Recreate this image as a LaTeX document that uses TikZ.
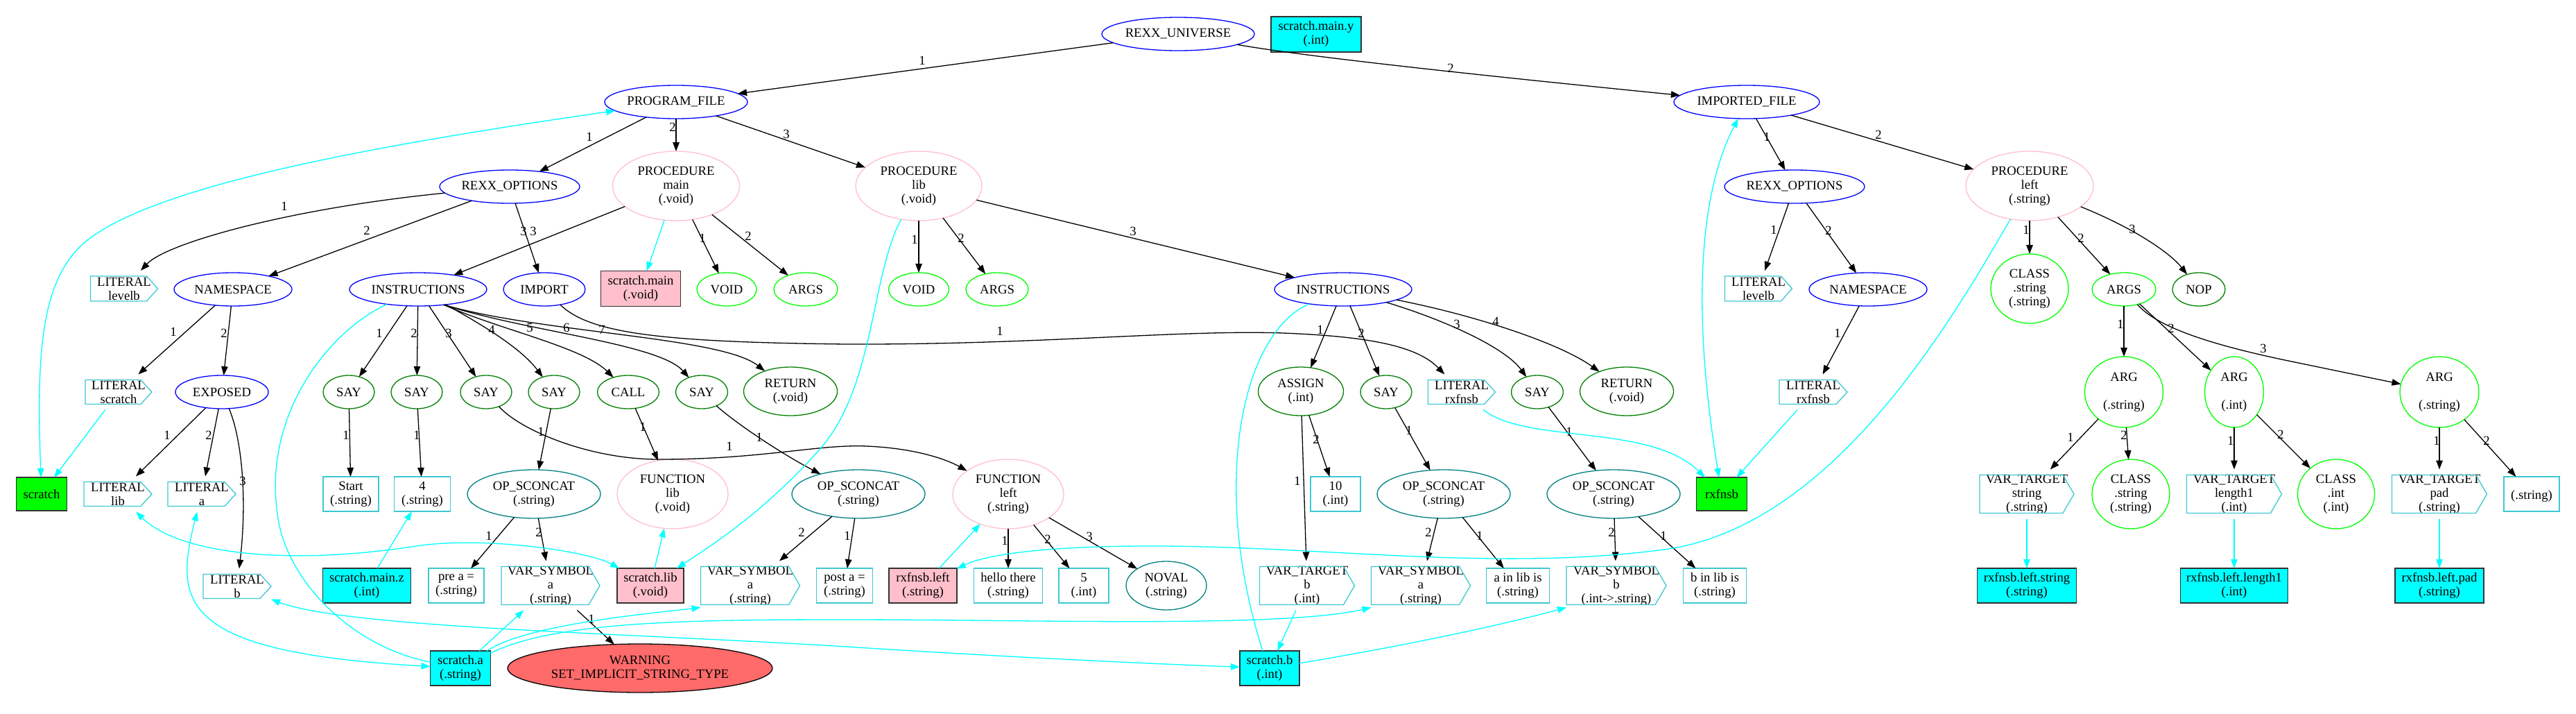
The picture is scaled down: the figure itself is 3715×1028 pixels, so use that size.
\documentclass[tikz,border=0pt]{standalone}
\usepackage{fontspec}
\setmainfont{Liberation Serif}
\usetikzlibrary{shapes.geometric,arrows.meta}
\definecolor{pinkc}{RGB}{255,192,203}
\definecolor{limec}{RGB}{0,255,0}
\definecolor{darkg}{RGB}{0,128,0}
\definecolor{tealc}{RGB}{0,128,128}
\definecolor{cdsc}{RGB}{60,200,210}
\definecolor{cyanc}{RGB}{0,255,255}
\definecolor{warnc}{RGB}{255,106,106}
\definecolor{boxb}{RGB}{50,50,50}
\newcommand\gvN[7]{\node[#1,minimum width=#5pt,minimum height=#6pt] (#2) at (#3,#4) {#7};}
\newcommand\gvC[6]{\node[cdsn,minimum width=#4pt,minimum height=#5pt+16pt] (#1) at (#2,#3) {#6};
 \draw[cdsline] (#2-#4/2,#3-#5/2) -- (#2+#4/2-16,#3-#5/2) -- (#2+#4/2,#3) -- (#2+#4/2-16,#3+#5/2) -- (#2-#4/2,#3+#5/2) -- cycle;}
\tikzset{
 gv/.style={font=\fontsize{18.67}{20}\selectfont, align=center, inner sep=0pt, outer sep=0pt},
 eb/.style={gv, ellipse, draw, line width=1.3pt},
 eblue/.style={eb, draw=blue},
 epink/.style={eb, draw=pinkc},
 egrn/.style={eb, draw=limec},
 edk/.style={eb, draw=darkg},
 etl/.style={eb, draw=tealc},
 ewarn/.style={eb, draw=black, fill=warnc},
 lbox/.style={gv, rectangle, draw=cdsc, line width=1.3pt},
 fbase/.style={gv, rectangle, draw=boxb, line width=1.3pt},
 fcyan/.style={fbase, fill=cyanc},
 fpink/.style={fbase, fill=pinkc},
 fgrn/.style={fbase, fill=limec},
 cdsn/.style={gv, rectangle},
 cdsline/.style={draw=cdsc, line width=1.3pt},
 lab/.style={gv},
 blk/.style={draw=black, line width=1.3pt, -{Triangle[length=13pt,width=9.5pt]}},
 cyn/.style={draw=cyanc, line width=1.3pt},
 cy/.style={cyn, -{Triangle[length=13pt,width=9.5pt]}},
 cyb/.style={cyn, {Triangle[length=13pt,width=9.5pt]}-{Triangle[length=13pt,width=9.5pt]}},
}
\begin{document}
\begin{tikzpicture}[x=1pt,y=-1pt]
\fill[white] (0,0) rectangle (3715,1028);
\useasboundingbox (0,0) rectangle (3715,1028);
% row 0-2
\gvN{eblue}{ru}{1699}{49}{220}{48}{REXX\_UNIVERSE}
\gvN{fcyan}{smy}{1898}{49.5}{130}{51}{scratch.main.y\\(.int)}
\gvN{eblue}{pf}{975}{147}{206}{48}{PROGRAM\_FILE}
\gvN{eblue}{imf}{2519}{147}{210}{48}{IMPORTED\_FILE}
\gvN{eblue}{rol}{735}{269}{202}{48}{REXX\_OPTIONS}
\gvN{epink}{pm}{975}{268}{183}{100}{PROCEDURE\\main\\(.void)}
\gvN{epink}{pl}{1325}{268}{182}{100}{PROCEDURE\\lib\\(.void)}
\gvN{eblue}{ror}{2588}{269}{202}{48}{REXX\_OPTIONS}
\gvN{epink}{plf}{2927}{268}{184}{100}{PROCEDURE\\left\\(.string)}
% row 3
\gvC{llv}{179}{416}{97}{36}{LITERAL\\levelb}
\gvN{eblue}{nsl}{336}{417}{170}{48}{NAMESPACE}
\gvN{eblue}{insl}{603}{417}{198}{48}{INSTRUCTIONS}
\gvN{eblue}{imp}{785}{417}{118}{48}{IMPORT}
\gvN{fpink}{smain}{924}{416}{115}{51}{scratch.main\\(.void)}
\gvN{egrn}{vm}{1048}{417}{86}{48}{VOID}
\gvN{egrn}{am}{1162}{417}{92}{48}{ARGS}
\gvN{egrn}{vl}{1325}{417}{87}{48}{VOID}
\gvN{egrn}{al}{1438}{417}{90}{48}{ARGS}
\gvN{eblue}{insr}{1937}{417}{198}{48}{INSTRUCTIONS}
\gvC{llvr}{2536}{416}{97}{36}{LITERAL\\levelb}
\gvN{eblue}{nsr}{2694}{417}{170}{48}{NAMESPACE}
\gvN{egrn}{cls1}{2927}{416}{112}{100}{CLASS\\.string\\(.string)}
\gvN{egrn}{argsr}{3063}{417}{92}{48}{ARGS}
\gvN{edk}{nop}{3171}{417}{76}{48}{NOP}
% row 4
\gvC{lsc}{171}{565}{96}{35}{LITERAL\\scratch}
\gvN{eblue}{exp}{320}{565}{134}{48}{EXPOSED}
\gvN{edk}{s1}{503}{565}{74}{48}{SAY}
\gvN{edk}{s2}{601}{565}{74}{48}{SAY}
\gvN{edk}{s3}{701}{565}{74}{48}{SAY}
\gvN{edk}{s4}{799}{565}{74}{48}{SAY}
\gvN{edk}{call}{906}{565}{89}{48}{CALL}
\gvN{edk}{s5}{1012}{565}{75}{48}{SAY}
\gvN{edk}{rl}{1140}{564}{135}{70}{RETURN\\(.void)}
\gvN{edk}{asg}{1876}{564}{123}{70}{ASSIGN\\(.int)}
\gvN{edk}{sr1}{1999}{565}{74}{48}{SAY}
\gvC{lrx}{2108}{565}{97}{35}{LITERAL\\rxfnsb}
\gvN{edk}{sr2}{2217}{565}{75}{48}{SAY}
\gvN{edk}{rr}{2346}{564}{135}{70}{RETURN\\(.void)}
\gvC{lrxr}{2615}{565}{98}{35}{LITERAL\\rxfnsb}
\gvN{egrn}{arg1}{3063}{565}{113}{102}{ARG\\~\\(.string)}
\gvN{egrn}{arg2}{3222}{565}{85}{102}{ARG\\~\\(.int)}
\gvN{egrn}{arg3}{3518}{565}{114}{102}{ARG\\~\\(.string)}
% row 5
\gvN{fgrn}{scr}{60}{712}{73}{48}{scratch}
\gvC{llib}{170}{712}{98}{35}{LITERAL\\lib}
\gvC{la}{291}{712}{98}{35}{LITERAL\\a}
\gvN{lbox}{start}{506}{712}{80}{50}{Start\\(.string)}
\gvN{lbox}{four}{609}{712}{81}{50}{4\\(.string)}
\gvN{etl}{opl1}{770}{712}{192}{70}{OP\_SCONCAT\\(.string)}
\gvN{epink}{fnl}{970}{712}{160}{100}{FUNCTION\\lib\\(.void)}
\gvN{etl}{opl2}{1238}{712}{192}{70}{OP\_SCONCAT\\(.string)}
\gvN{epink}{fl}{1454}{712}{160}{100}{FUNCTION\\left\\(.string)}
\gvN{lbox}{ten}{1926}{712}{72}{50}{10\\(.int)}
\gvN{etl}{opr1}{2082}{712}{192}{70}{OP\_SCONCAT\\(.string)}
\gvN{etl}{opr2}{2327}{712}{192}{70}{OP\_SCONCAT\\(.string)}
\gvN{fgrn}{rxg}{2483}{712}{73}{48}{rxfnsb}
\gvC{vts}{2923}{712}{136}{55}{VAR\_TARGET\\string\\(.string)}
\gvN{egrn}{cls2}{3073}{712}{112}{100}{CLASS\\.string\\(.string)}
\gvC{vtl}{3222}{712}{137}{55}{VAR\_TARGET\\length1\\(.int)}
\gvN{egrn}{clsi}{3369}{712}{111}{100}{CLASS\\.int\\(.int)}
\gvC{vtp}{3518}{712}{137}{55}{VAR\_TARGET\\pad\\(.string)}
\gvN{lbox}{strb}{3651}{712}{80}{50}{~\\(.string)}
% row 6
\gvC{lb}{342}{845}{98}{35}{LITERAL\\b}
\gvN{fcyan}{smz}{529}{844}{127}{50}{scratch.main.z\\(.int)}
\gvN{lbox}{prea}{658}{844}{80}{50}{pre a =\\(.string)}
\gvC{vsa1}{794}{844}{142}{55}{VAR\_SYMBOL\\a\\(.string)}
\gvN{fpink}{slib}{938}{844}{96}{50}{scratch.lib\\(.void)}
\gvC{vsa2}{1082}{844}{143}{55}{VAR\_SYMBOL\\a\\(.string)}
\gvN{lbox}{posta}{1218}{844}{81}{50}{post a =\\(.string)}
\gvN{fpink}{rxl}{1331}{844}{98}{50}{rxfnsb.left\\(.string)}
\gvN{lbox}{hello}{1454}{844}{99}{50}{hello there\\(.string)}
\gvN{lbox}{five}{1563}{844}{72}{50}{5\\(.int)}
\gvN{etl}{noval}{1682}{844}{116}{70}{NOVAL\\(.string)}
\gvC{vtb}{1885}{844}{137}{55}{VAR\_TARGET\\b\\(.int)}
\gvC{vsar}{2049}{844}{143}{55}{VAR\_SYMBOL\\a\\(.string)}
\gvN{lbox}{ainlib}{2189}{844}{91}{50}{a in lib is\\(.string)}
\gvC{vsb}{2331}{844}{144}{55}{VAR\_SYMBOL\\b\\(.int->.string)}
\gvN{lbox}{binlib}{2473}{844}{91}{50}{b in lib is\\(.string)}
\gvN{fcyan}{sls}{2923}{844}{143}{50}{rxfnsb.left.string\\(.string)}
\gvN{fcyan}{sll}{3222}{844}{155}{50}{rxfnsb.left.length1\\(.int)}
\gvN{fcyan}{slp}{3518}{844}{128}{50}{rxfnsb.left.pad\\(.string)}
% row 7
\gvN{fcyan}{sa}{664}{963}{87}{50}{scratch.a\\(.string)}
\gvN{ewarn}{warn}{923}{963}{382}{70}{WARNING\\SET\_IMPLICIT\_STRING\_TYPE}
\gvN{fcyan}{sb}{1831}{963}{86}{50}{scratch.b\\(.int)}

% ---------- black edges ----------
\draw[blk] (ru) -- (pf) node[lab,at={(1330,87)}]{1};
\draw[blk] (ru) .. controls (1900,85) and (2250,120) .. (imf) node[lab,at={(2092,98)}]{2};
\draw[blk] (pf) -- (rol) node[lab,at={(850,197)}]{1};
\draw[blk] (pf) -- (pm) node[lab,at={(970,183)}]{2};
\draw[blk] (pf) -- (pl) node[lab,at={(1134,193)}]{3};
\draw[blk] (rol) .. controls (420,300) and (240,350) .. (llv) node[lab,at={(410,297)}]{1};
\draw[blk] (rol) -- (nsl) node[lab,at={(529,332)}]{2};
\draw[blk] (rol) -- (imp) node[lab,at={(755,333)}]{3};
\draw[blk] (pm) -- (insl) node[lab,at={(769,333)}]{3};
\draw[blk] (pm) -- (vm) node[lab,at={(1013,343)}]{1};
\draw[blk] (pm) -- (am) node[lab,at={(1079,340)}]{2};
\draw[blk] (pl) -- (vl) node[lab,at={(1319,345)}]{1};
\draw[blk] (pl) -- (al) node[lab,at={(1386,343)}]{2};
\draw[blk] (pl) -- (insr) node[lab,at={(1634,333)}]{3};
\draw[blk] (imf) -- (ror) node[lab,at={(2548,197)}]{1};
\draw[blk] (imf) -- (plf) node[lab,at={(2709,194)}]{2};
\draw[blk] (ror) -- (llvr) node[lab,at={(2558,331)}]{1};
\draw[blk] (ror) -- (nsr) node[lab,at={(2637,332)}]{2};
\draw[blk] (plf) -- (cls1) node[lab,at={(2922,331)}]{1};
\draw[blk] (plf) -- (argsr) node[lab,at={(3001,343)}]{2};
\draw[blk] (plf) .. controls (3080,330) and (3130,365) .. (nop) node[lab,at={(3075,330)}]{3};
\draw[blk] (nsl) -- (lsc) node[lab,at={(250,478)}]{1};
\draw[blk] (nsl) -- (exp) node[lab,at={(323,480)}]{2};
\draw[blk] (insl) -- (s1) node[lab,at={(547,480)}]{1};
\draw[blk] (insl) -- (s2) node[lab,at={(597,480)}]{2};
\draw[blk] (insl) -- (s3) node[lab,at={(647,480)}]{3};
\draw[blk] (insl) .. controls (690,465) and (750,500) .. (s4) node[lab,at={(709,475)}]{4};
\draw[blk] (insl.-31) .. controls (720,475) and (840,500) .. (call) node[lab,at={(764,472)}]{5};
\draw[blk] (insl.-31) .. controls (760,478) and (950,495) .. (s5) node[lab,at={(817,472)}]{6};
\draw[blk] (insl.-31) .. controls (780,480) and (1040,485) .. (rl) node[lab,at={(868,475)}]{7};
\draw[blk] (imp) .. controls (850,480) and (950,493) .. (1220,496) .. controls (1500,497) and (1700,475) .. (1850,480) .. controls (1980,485) and (2045,500) .. (lrx) node[lab,at={(1442,477)}]{1};
\draw[blk] (insr) -- (asg) node[lab,at={(1904,475)}]{1};
\draw[blk] (insr) -- (sr1) node[lab,at={(1963,480)}]{2};
\draw[blk] (insr) .. controls (2080,460) and (2170,500) .. (sr2) node[lab,at={(2101,467)}]{3};
\draw[blk] (insr) .. controls (2130,455) and (2250,495) .. (rr) node[lab,at={(2157,463)}]{4};
\draw[blk] (nsr) -- (lrxr) node[lab,at={(2650,480)}]{1};
\draw[blk] (argsr) -- (arg1) node[lab,at={(3058,467)}]{1};
\draw[blk] (argsr) -- (arg2) node[lab,at={(3131,473)}]{2};
\draw[blk] (argsr) .. controls (3110,470) and (3180,495) .. (3300,520) -- (arg3) node[lab,at={(3264,502)}]{3};
\draw[blk] (exp) -- (llib) node[lab,at={(241,627)}]{1};
\draw[blk] (exp) -- (la) node[lab,at={(301,627)}]{2};
\draw[blk] (exp) .. controls (348,630) and (357,715) .. (lb) node[lab,at={(350,693)}]{3};
\draw[blk] (s1) -- (start) node[lab,at={(499,627)}]{1};
\draw[blk] (s2) -- (four) node[lab,at={(601,627)}]{1};
\draw[blk] (s3) .. controls (750,620) and (850,662) .. (950,662) .. controls (1100,662) and (1180,640) .. (1250,643) .. controls (1320,646) and (1365,662) .. (fl) node[lab,at={(1052,643)}]{1};
\draw[blk] (s4) -- (opl1) node[lab,at={(780,622)}]{1};
\draw[blk] (call) -- (fnl) node[lab,at={(927,615)}]{1};
\draw[blk] (s5) .. controls (1055,605) and (1120,650) .. (opl2) node[lab,at={(1095,630)}]{1};
\draw[blk] (asg) -- (vtb) node[lab,at={(1871,693)}]{1};
\draw[blk] (asg) -- (ten) node[lab,at={(1898,633)}]{2};
\draw[blk] (sr1) -- (opr1) node[lab,at={(2032,620)}]{1};
\draw[blk] (sr2) -- (opr2) node[lab,at={(2263,622)}]{1};
\draw[blk] (arg1) -- (vts) node[lab,at={(2986,630)}]{1};
\draw[blk] (arg1) -- (cls2) node[lab,at={(3063,627)}]{2};
\draw[blk] (arg2) -- (vtl) node[lab,at={(3217,635)}]{1};
\draw[blk] (arg2) -- (clsi) node[lab,at={(3289,626)}]{2};
\draw[blk] (arg3) -- (vtp) node[lab,at={(3514,635)}]{1};
\draw[blk] (arg3) -- (strb) node[lab,at={(3586,635)}]{2};
\draw[blk] (opl1) -- (prea) node[lab,at={(705,772)}]{1};
\draw[blk] (opl1) -- (vsa1) node[lab,at={(777,767)}]{2};
\draw[blk] (opl2) -- (posta) node[lab,at={(1222,772)}]{1};
\draw[blk] (opl2) -- (vsa2) node[lab,at={(1156,767)}]{2};
\draw[blk] (fl) -- (hello) node[lab,at={(1449,779)}]{1};
\draw[blk] (fl) -- (five) node[lab,at={(1511,777)}]{2};
\draw[blk] (fl) -- (noval) node[lab,at={(1571,773)}]{3};
\draw[blk] (opr1) -- (vsar) node[lab,at={(2060,767)}]{2};
\draw[blk] (opr1) -- (ainlib) node[lab,at={(2134,772)}]{1};
\draw[blk] (opr2) -- (vsb) node[lab,at={(2324,767)}]{2};
\draw[blk] (opr2) -- (binlib) node[lab,at={(2399,772)}]{1};
\draw[blk] (vsa1) -- (warn) node[lab,at={(853,892)}]{1};

% ---------- cyan edges ----------
\draw[cyb] (pf) .. controls (500,215) and (230,270) .. (130,343) .. controls (60,395) and (52,500) .. (scr);
\draw[cy] (lsc) -- (scr);
\draw[cyb] (llib) .. controls (260,800) and (420,815) .. (600,787) .. controls (700,772) and (850,795) .. (slib);
\draw[cy] (smz) -- (four);
\draw[cyn] (insl) .. controls (470,480) and (380,600) .. (400,740) .. controls (410,830) and (500,930) .. (sa);
\draw[cyb] (la) .. controls (250,870) and (260,940) .. (sa);
\draw[cyb] (lb) .. controls (500,905) and (900,912) .. (1220,932) .. controls (1500,950) and (1700,958) .. (sb);
\draw[cy] (slib) -- (fnl);
\draw[cy] (pl) .. controls (1255,400) and (1262,560) .. (1180,650) .. controls (1100,740) and (1020,790) .. (slib);
\draw[cy] (sa) -- (vsa1);
\draw[cy] (sa) .. controls (760,900) and (930,885) .. ([yshift=4pt]vsa2.south west);
\draw[cy] (sa) .. controls (800,895) and (1000,893) .. (1220,893) .. controls (1500,893) and (1850,905) .. ([yshift=4pt]vsar.south west);
\draw[cy] (pm) -- (smain);
\draw[cy] (rxl) -- (fl);
\draw[cy] (plf) .. controls (2810,470) and (2640,760) .. (2400,792) .. controls (2150,825) and (1900,785) .. (1640,787) .. controls (1500,788) and (1420,800) .. (rxl);
\draw[cyn] (insr) .. controls (1790,480) and (1745,700) .. ([xshift=33pt]sb.north west);
\draw[cy] (vtb) -- (sb);
\draw[cy] (sb) .. controls (2000,935) and (2150,905) .. ([yshift=4pt]vsb.south west);
\draw[cy] (lrx) .. controls (2200,640) and (2380,610) .. (rxg);
\draw[cyb] (imf) .. controls (2450,280) and (2440,450) .. (rxg);
\draw[cy] (lrxr) -- (rxg);
\draw[cy] (vts) -- (sls);
\draw[cy] (vtl) -- (sll);
\draw[cy] (vtp) -- (slp);
\end{tikzpicture}
\end{document}
